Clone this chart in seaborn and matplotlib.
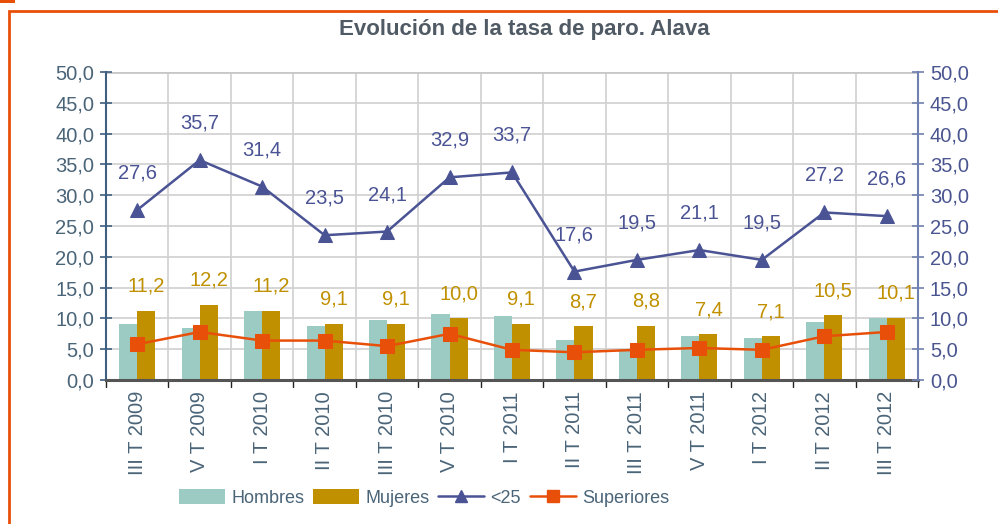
import numpy as np
import pandas as pd
import matplotlib
matplotlib.use("Agg")
import matplotlib.pyplot as plt
import seaborn as sns
from matplotlib.patches import Patch, Rectangle
from matplotlib.lines import Line2D

categories = ["III T 2009", "IV T 2009", "I T 2010", "II T 2010", "III T 2010", "IV T 2010",
              "I T 2011", "II T 2011", "III T 2011", "IV T 2011", "I T 2012", "II T 2012", "III T 2012"]
display_labels = ["III T 2009", "V T 2009", "I T 2010", "II T 2010", "III T 2010", "V T 2010",
                  "I T 2011", "II T 2011", "III T 2011", "V T 2011", "I T 2012", "II T 2012", "III T 2012"]
hombres = [9.1, 8.4, 11.2, 8.8, 9.7, 10.7, 10.4, 6.5, 5.0, 7.1, 6.8, 9.4, 10.1]
mujeres = [11.2, 12.2, 11.2, 9.1, 9.1, 10.0, 9.1, 8.7, 8.8, 7.4, 7.1, 10.5, 10.1]
menores25 = [27.6, 35.7, 31.4, 23.5, 24.1, 32.9, 33.7, 17.6, 19.5, 21.1, 19.5, 27.2, 26.6]
superiores = [5.8, 7.8, 6.4, 6.4, 5.5, 7.5, 4.9, 4.5, 4.9, 5.2, 4.9, 7.1, 7.8]
yticks = [0, 5, 10, 15, 20, 25, 30, 35, 40, 45, 50]

C_H = "#9BCBC3"
C_M = "#C09000"
C_Y = "#4A5394"
C_S = "#E8500A"
C_LTXT = "#4A6478"
C_RTXT = "#4A5590"

sns.set_theme(style="white")
plt.rcParams["font.family"] = ["Liberation Sans", "DejaVu Sans"]

fig = plt.figure(figsize=(9.98, 5.24), dpi=100)
ax = fig.add_axes([106/998, 1-380/524, (918-106)/998, (380-72)/524])

df = pd.DataFrame({
    "cat": categories * 2,
    "serie": ["Hombres"] * len(categories) + ["Mujeres"] * len(categories),
    "valor": hombres + mujeres,
})
sns.barplot(data=df, x="cat", y="valor", hue="serie", order=categories,
            palette={"Hombres": C_H, "Mujeres": C_M}, width=0.58,
            saturation=1, ax=ax, legend=False, zorder=2, linewidth=0, edgecolor="none")

idx = np.arange(len(categories))
sns.lineplot(x=idx, y=superiores, ax=ax, color=C_S, marker="s", markersize=10,
             markeredgecolor=C_S, linewidth=1.8, zorder=4)
sns.lineplot(x=idx, y=menores25, ax=ax, color=C_Y, marker="^", markersize=10,
             markeredgecolor=C_Y, linewidth=1.8, zorder=4)

ax.set_xlim(-0.5, len(categories) - 0.5)
ax.set_ylim(0, 50)
ax.set_yticks(yticks)
ax.set_yticklabels([f"{v:.1f}".replace(".", ",") for v in yticks], color=C_LTXT, fontsize=14.5)
ax.set_xticks(idx)
ax.set_xticklabels(display_labels, rotation=90, color=C_LTXT, fontsize=14.5)
ax.tick_params(axis="x", length=0, pad=8)
ax.set_xlabel("")
ax.set_ylabel("")

# gridlines
for v in yticks[1:]:
    ax.axhline(v, color="#D0D0D0", lw=1.2, zorder=0)
for b in np.arange(0.5, len(categories) - 0.5, 1):
    ax.axvline(b, color="#D0D0D0", lw=1.2, zorder=0)
ax.axhline(50, color="#C8C8C8", lw=2, zorder=0)
# bottom boundary ticks
for b in np.arange(-0.5, len(categories) + 0.5, 1):
    ax.plot([b, b], [0, -1.2], color="#222222", lw=1, clip_on=False, zorder=5)

for s in ["top", "right"]:
    ax.spines[s].set_visible(False)
ax.spines["left"].set_color("#3F5F80")
ax.spines["left"].set_linewidth(1.5)
ax.spines["bottom"].set_color("#555555")
ax.spines["bottom"].set_linewidth(2.2)
ax.spines["bottom"].set_zorder(5)
ax.tick_params(axis="y", direction="inout", length=9, width=1.2, color="#3F5F80", pad=4)

ax2 = ax.twinx()
ax2.set_ylim(0, 50)
ax2.set_yticks(yticks)
ax2.set_yticklabels([f"{v:.1f}".replace(".", ",") for v in yticks], color=C_RTXT, fontsize=14.5)
for s in ["top", "left", "bottom"]:
    ax2.spines[s].set_visible(False)
ax2.spines["right"].set_color("#7080B0")
ax2.spines["right"].set_linewidth(1.5)
ax2.tick_params(axis="y", direction="inout", length=9, width=1.2, color="#7080B0", pad=4)
ax2.grid(False)

# data labels
for i, v in enumerate(menores25):
    ax.text(i, v + 6.0, f"{v:.1f}".replace(".", ","), ha="center", va="center",
            color=C_Y, fontsize=14.5, zorder=6)
for i, v in enumerate(mujeres):
    ax.text(i + 0.145, v + 4.0, f"{v:.1f}".replace(".", ","), ha="center", va="center",
            color=C_M, fontsize=14.5, zorder=6)

fig.text(524/998, 1-30/524, "Evolución de la tasa de paro. Alava", ha="center", va="center",
         fontsize=16, fontweight="bold", color="#505A64")

handles = [
    Patch(facecolor=C_H, edgecolor="none", label="Hombres"),
    Patch(facecolor=C_M, edgecolor="none", label="Mujeres"),
    Line2D([], [], color=C_Y, marker="^", markersize=9, lw=1.8, label="<25"),
    Line2D([], [], color=C_S, marker="s", markersize=9, lw=1.8, label="Superiores"),
]
leg = fig.legend(handles=handles, loc="center", bbox_to_anchor=(424/998, 1-498/524), ncol=4,
                 frameon=False, fontsize=13, handlelength=2.55, handleheight=0.9,
                 columnspacing=0.5, handletextpad=0.33, borderpad=0)
for t in leg.get_texts():
    t.set_color(C_LTXT)

# orange frame
fig.patches.append(Rectangle((9/998, -0.05), 1.2, 1-11/524 + 0.05, transform=fig.transFigure,
                             fill=False, edgecolor="#E8500A", lw=2, zorder=10))
fig.patches.append(Rectangle((0, 1-3/524), 15/998, 3/524, transform=fig.transFigure,
                             facecolor="#E8500A", edgecolor="none", zorder=10))

fig.savefig("out.png", dpi=100)
